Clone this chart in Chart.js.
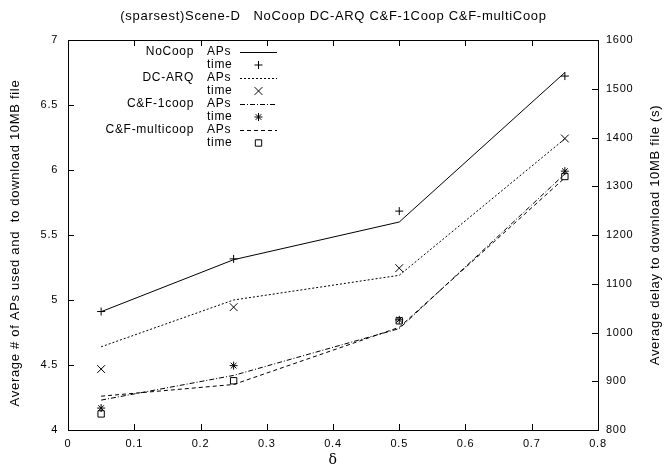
<!DOCTYPE html>
<html>
<head>
<meta charset="utf-8">
<script src="https://cdn.jsdelivr.net/npm/chart.js@4/dist/chart.umd.min.js"></script>
<style>
    html, body { margin:0; padding:0; background:#fff; }
    #grafico { display:block; }
</style>
</head>
<body>
<canvas id="grafico" width="667" height="468"></canvas>
<script>

// ==========================================================
// Dados
// ==========================================================

const deltas = [0.05, 0.25, 0.5, 0.75];

// APs usados (eixo esquerdo)
const apsNoCoop  = [4.91, 5.31, 5.60, 6.75];
const apsDcArq   = [4.64, 5.00, 5.19, 6.24];
const aps1Coop   = [4.23, 4.42, 4.78, 5.97];
const apsMulti   = [4.26, 4.35, 4.79, 5.94];

// tempo médio em segundos (eixo direito)
const tempoNoCoop = [1043, 1151, 1249, 1526];
const tempoDcArq  = [925, 1052, 1132, 1398];
const tempo1Coop  = [845, 932, 1026, 1331];
const tempoMulti  = [833, 901, 1024, 1320];

const legendaNomes = ["NoCoop", "DC-ARQ", "C&F-1coop", "C&F-multicoop"];

const titulo = "(sparsest)Scene-D   NoCoop DC-ARQ C&F-1Coop C&F-multiCoop";
const tituloEsquerda = "Average # of APs used and  to download 10MB file";
const tituloDireita = "Average delay to download 10MB file (s)";

const FONTE = "Liberation Sans, Arial, Helvetica, sans-serif";
const ESPACO = "0.7px";

// ==========================================================
// Helpers
// ==========================================================

function pontos(xs, ys){
    return xs.map((x, i)=>({x:x, y:ys[i]}));
}

function linhaAPs(label, ys, dash){
    return {
        label:label + " APs",
        data:pontos(deltas, ys),
        yAxisID:"y",
        showLine:true,
        borderColor:"#000",
        borderWidth:1,
        borderDash:dash,
        pointRadius:0,
        fill:false,
        tension:0
    };
}

function pontosTempo(label, ys, estilo, raio){
    return {
        label:label + " time",
        data:pontos(deltas, ys),
        yAxisID:"y1",
        showLine:false,
        pointStyle:estilo,
        pointRadius:raio,
        pointBorderWidth:1,
        borderColor:"#000",
        backgroundColor:"rgba(0,0,0,0)",
        pointBackgroundColor:"rgba(0,0,0,0)"
    };
}

function rotulo(v){
    return String(Math.round(v * 100) / 100);
}

// ==========================================================
// PLUGIN: estilo gnuplot (ticks para dentro, títulos, legenda)
// ==========================================================

const gnuplotPlugin = {

    id:"gnuplot",

    beforeDraw(chart){
        chart.ctx.letterSpacing = ESPACO;
    },

    afterDraw(chart){

        const {ctx, chartArea} = chart;
        const {left, right, top, bottom} = chartArea;
        const tl = 6;

        ctx.save();
        ctx.strokeStyle = "#000";
        ctx.lineWidth = 1;

        // moldura
        ctx.strokeRect(left + 0.5, top + 0.5, right - left, bottom - top);

        ctx.beginPath();

        // ticks x embaixo e em cima
        chart.scales.x.ticks.forEach(t=>{
            const px = Math.round(chart.scales.x.getPixelForValue(t.value)) + 0.5;
            ctx.moveTo(px, bottom); ctx.lineTo(px, bottom - tl);
            ctx.moveTo(px, top); ctx.lineTo(px, top + tl);
        });

        // ticks y esquerda
        chart.scales.y.ticks.forEach(t=>{
            const py = Math.round(chart.scales.y.getPixelForValue(t.value)) + 0.5;
            ctx.moveTo(left, py); ctx.lineTo(left + tl, py);
        });

        // ticks y direita
        chart.scales.y1.ticks.forEach(t=>{
            const py = Math.round(chart.scales.y1.getPixelForValue(t.value)) + 0.5;
            ctx.moveTo(right, py); ctx.lineTo(right - tl, py);
        });

        ctx.stroke();

        // títulos dos eixos
        ctx.fillStyle = "#000";
        ctx.letterSpacing = ESPACO;
        ctx.font = "13px " + FONTE;
        ctx.textAlign = "center";
        ctx.textBaseline = "middle";

        ctx.save();
        ctx.translate(15, (top + bottom) / 2 + 8);
        ctx.rotate(-Math.PI / 2);
        ctx.fillText(tituloEsquerda, 0, 0);
        ctx.restore();

        ctx.save();
        ctx.translate(655, (top + bottom) / 2);
        ctx.rotate(-Math.PI / 2);
        ctx.fillText(tituloDireita, 0, 0);
        ctx.restore();

        ctx.font = "14px DejaVu Serif, serif";
        ctx.fillText("\u03b4", (left + right) / 2, 460);

        // legenda
        ctx.font = "12px " + FONTE;
        const xNome = left + 126;
        const xTipo = left + 139;
        const xAmostra1 = left + 172;
        const xAmostra2 = left + 209;
        let y = top + 12;

        legendaNomes.forEach((nome, i)=>{

            const dsLinha = chart.data.datasets[i * 2];
            const dsPonto = chart.data.datasets[i * 2 + 1];

            ctx.textAlign = "right";
            ctx.fillText(nome, xNome, y);
            ctx.textAlign = "left";
            ctx.fillText("APs", xTipo, y);

            ctx.save();
            ctx.setLineDash(dsLinha.borderDash || []);
            ctx.beginPath();
            ctx.moveTo(xAmostra1, Math.round(y) + 0.5);
            ctx.lineTo(xAmostra2, Math.round(y) + 0.5);
            ctx.stroke();
            ctx.restore();

            y += 13;

            ctx.fillText("time", xTipo, y);
            ctx.save();
            ctx.fillStyle = "rgba(0,0,0,0)";
            Chart.helpers.drawPoint(ctx, {
                pointStyle:dsPonto.pointStyle,
                radius:dsPonto.pointRadius,
                rotation:0,
                borderWidth:1
            }, (xAmostra1 + xAmostra2) / 2, y);
            ctx.restore();

            y += 13;

        });

        ctx.restore();

    }

};

// ==========================================================
// Gráfico
// ==========================================================

const canvas = document.getElementById("grafico");

const eixoFonte = {family:FONTE, size:11};

const grafico = new Chart(canvas, {

    type:"scatter",

    data:{
        datasets:[
            linhaAPs("NoCoop", apsNoCoop, []),
            pontosTempo("NoCoop", tempoNoCoop, "cross", 4),
            linhaAPs("DC-ARQ", apsDcArq, [2, 2]),
            pontosTempo("DC-ARQ", tempoDcArq, "crossRot", 5.5),
            linhaAPs("C&F-1coop", aps1Coop, [5, 2, 1, 2]),
            pontosTempo("C&F-1coop", tempo1Coop, "star", 4),
            linhaAPs("C&F-multicoop", apsMulti, [4, 3]),
            pontosTempo("C&F-multicoop", tempoMulti, "rect", 4.5)
        ]
    },

    options:{

        responsive:false,
        animation:false,
        devicePixelRatio:1,

        layout:{
            padding:{left:0, right:0, top:0, bottom:0}
        },

        plugins:{
            legend:{display:false},
            tooltip:{enabled:false},
            title:{
                display:true,
                text:titulo,
                color:"#000",
                font:{family:FONTE, size:13, weight:"normal", lineHeight:1.2},
                padding:{top:9, bottom:15.4}
            }
        },

        scales:{

            x:{
                type:"linear",
                min:0,
                max:0.8,
                grid:{display:false, drawTicks:false},
                border:{display:false},
                ticks:{
                    stepSize:0.1,
                    padding:7,
                    color:"#000",
                    font:eixoFonte,
                    callback:rotulo
                },
                afterFit(scale){ scale.height = 38; }
            },

            y:{
                position:"left",
                min:4,
                max:7,
                grid:{display:false, drawTicks:false},
                border:{display:false},
                ticks:{
                    stepSize:0.5,
                    padding:10,
                    color:"#000",
                    font:eixoFonte,
                    callback:rotulo
                },
                afterFit(scale){ scale.width = 68; }
            },

            y1:{
                position:"right",
                min:800,
                max:1600,
                grid:{display:false, drawTicks:false},
                border:{display:false},
                ticks:{
                    stepSize:100,
                    padding:8,
                    color:"#000",
                    font:eixoFonte,
                    callback:rotulo
                },
                afterFit(scale){ scale.width = 69; }
            }

        }

    },

    plugins:[gnuplotPlugin]

});

</script>
</body>
</html>
